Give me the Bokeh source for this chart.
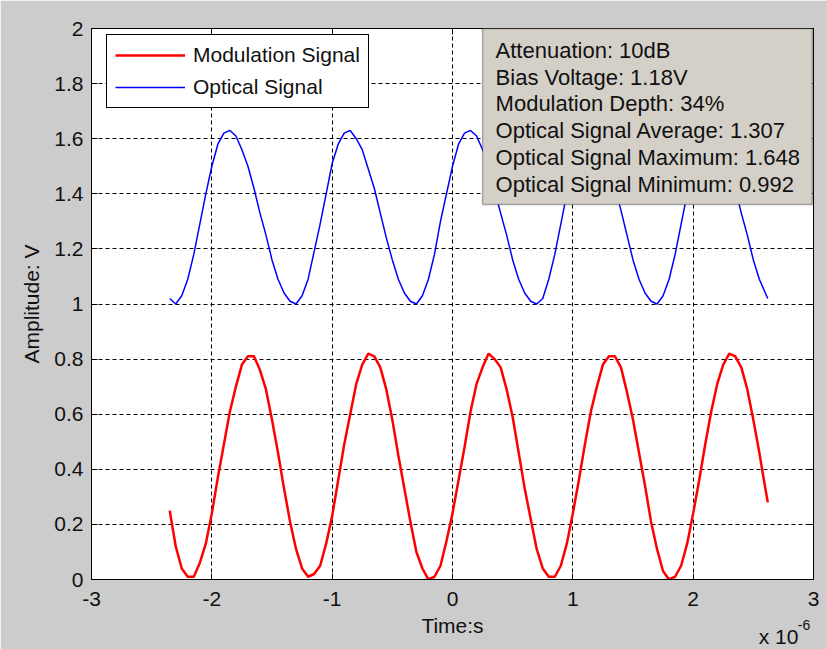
from bokeh.plotting import figure
from bokeh.models import LinearAxis, FixedTicker, BoxAnnotation, Label, Range1d, CustomLabelingPolicy
from bokeh.embed import file_html
from bokeh.resources import INLINE

# ---- data (time in units of 1e-6 s) ----
time_us = [-2.35, -2.30, -2.25, -2.20, -2.15, -2.10, -2.05, -2.00, -1.95, -1.90,
           -1.85, -1.80, -1.75, -1.70, -1.65, -1.60, -1.55, -1.50, -1.45, -1.40,
           -1.35, -1.30, -1.25, -1.20, -1.15, -1.10, -1.05, -1.00, -0.95, -0.90,
           -0.85, -0.80, -0.75, -0.70, -0.65, -0.60, -0.55, -0.50, -0.45, -0.40,
           -0.35, -0.30, -0.25, -0.20, -0.15, -0.10, -0.05, 0.00, 0.05, 0.10,
           0.15, 0.20, 0.25, 0.30, 0.35, 0.40, 0.45, 0.50, 0.55, 0.60,
           0.65, 0.70, 0.75, 0.80, 0.85, 0.90, 0.95, 1.00, 1.05, 1.10,
           1.15, 1.20, 1.25, 1.30, 1.35, 1.40, 1.45, 1.50, 1.55, 1.60,
           1.65, 1.70, 1.75, 1.80, 1.85, 1.90, 1.95, 2.00, 2.05, 2.10,
           2.15, 2.20, 2.25, 2.30, 2.35, 2.40, 2.45, 2.50, 2.55, 2.60,
           2.62]

modulation_signal = [
    0.25, 0.12, 0.04, 0.01, 0.01, 0.06, 0.13, 0.24, 0.37, 0.49,
    0.61, 0.70, 0.78, 0.81, 0.81, 0.76, 0.69, 0.58, 0.46, 0.33,
    0.21, 0.11, 0.04, 0.01, 0.02, 0.05, 0.13, 0.23, 0.36, 0.49,
    0.60, 0.71, 0.78, 0.82, 0.81, 0.77, 0.69, 0.58, 0.45, 0.33,
    0.21, 0.10, 0.04, 0.00, 0.01, 0.05, 0.14, 0.24, 0.36, 0.48,
    0.61, 0.71, 0.77, 0.82, 0.80, 0.77, 0.69, 0.59, 0.46, 0.33,
    0.22, 0.11, 0.04, 0.01, 0.01, 0.05, 0.13, 0.24, 0.36, 0.49,
    0.61, 0.70, 0.78, 0.81, 0.81, 0.77, 0.68, 0.58, 0.46, 0.34,
    0.21, 0.11, 0.03, 0.00, 0.01, 0.05, 0.13, 0.24, 0.36, 0.49,
    0.61, 0.71, 0.78, 0.82, 0.81, 0.77, 0.69, 0.58, 0.46, 0.33,
    0.28]

optical_signal = [
    1.02, 1.00, 1.03, 1.09, 1.18, 1.29, 1.40, 1.50, 1.58, 1.62,
    1.63, 1.61, 1.56, 1.50, 1.42, 1.33, 1.25, 1.16, 1.09, 1.04,
    1.01, 1.00, 1.03, 1.09, 1.19, 1.29, 1.40, 1.51, 1.58, 1.62,
    1.63, 1.60, 1.56, 1.49, 1.42, 1.33, 1.24, 1.16, 1.09, 1.04,
    1.01, 1.00, 1.03, 1.09, 1.18, 1.30, 1.40, 1.50, 1.58, 1.62,
    1.63, 1.61, 1.56, 1.50, 1.41, 1.33, 1.25, 1.16, 1.09, 1.04,
    1.01, 1.00, 1.02, 1.09, 1.18, 1.29, 1.40, 1.50, 1.58, 1.62,
    1.63, 1.61, 1.56, 1.50, 1.42, 1.34, 1.25, 1.16, 1.09, 1.04,
    1.01, 1.00, 1.03, 1.09, 1.18, 1.29, 1.40, 1.50, 1.58, 1.62,
    1.63, 1.61, 1.56, 1.50, 1.42, 1.33, 1.25, 1.16, 1.09, 1.04,
    1.02]

series_names = ["Modulation Signal", "Optical Signal"]

x_ticks = [-3, -2, -1, 0, 1, 2, 3]
x_tick_labels = ["-3", "-2", "-1", "0", "1", "2", "3"]
y_ticks = [0, 0.2, 0.4, 0.6, 0.8, 1, 1.2, 1.4, 1.6, 1.8, 2]
y_tick_labels = ["0", "0.2", "0.4", "0.6", "0.8", "1", "1.2", "1.4", "1.6", "1.8", "2"]

info_lines = ["Attenuation: 10dB",
              "Bias Voltage: 1.18V",
              "Modulation Depth: 34%",
              "Optical Signal Average: 1.307",
              "Optical Signal Maximum: 1.648",
              "Optical Signal Minimum: 0.992"]

FONT = "Liberation Sans"
FS = "21px"
TXT = "#111111"

p = figure(width=826, height=649, x_range=Range1d(-3, 3), y_range=Range1d(0, 2),
           output_backend="svg", toolbar_location=None,
           min_border_left=91, min_border_right=13, min_border_top=28, min_border_bottom=70,
           border_fill_color="#cccccc", background_fill_color="white",
           outline_line_color="black", outline_line_width=1)

p.line(time_us, modulation_signal, color="red", line_width=2.5, legend_label=series_names[0])
p.line(time_us, optical_signal, color="blue", line_width=1.5, legend_label=series_names[1])

# axes styling
for ax in (p.xaxis[0], p.yaxis[0]):
    ax.axis_line_color = "black"
    ax.major_tick_line_color = "black"
    ax.major_tick_in = 6
    ax.major_tick_out = 0
    ax.minor_tick_line_color = None
    ax.major_label_text_font = FONT
    ax.major_label_text_font_size = FS
    ax.major_label_text_color = TXT
    ax.axis_label_text_font = FONT
    ax.axis_label_text_font_size = FS
    ax.axis_label_text_font_style = "normal"
    ax.axis_label_text_color = TXT

p.xaxis[0].ticker = FixedTicker(ticks=x_ticks)
p.xaxis[0].major_label_overrides = dict(zip(x_ticks, x_tick_labels))
p.xaxis[0].major_label_standoff = 12
p.xaxis[0].axis_label = "Time:s"
p.xaxis[0].axis_label_standoff = 5

p.yaxis[0].ticker = FixedTicker(ticks=y_ticks)
p.yaxis[0].major_label_overrides = dict(zip(y_ticks, y_tick_labels))
p.yaxis[0].major_label_standoff = 8
p.yaxis[0].axis_label = "Amplitude: V"
p.yaxis[0].axis_label_standoff = 8

# box-style ticks on top and right (labels hidden)
hide_all = "for (const i of indices) { indices.unset(i) }\nreturn indices"
top_ax = LinearAxis(ticker=FixedTicker(ticks=x_ticks), major_tick_in=6, major_tick_out=0,
                    minor_tick_line_color=None, major_label_standoff=0,
                    major_label_text_font_size="1px",
                    major_label_policy=CustomLabelingPolicy(code=hide_all),
                    axis_line_color="black", major_tick_line_color="black")
right_ax = LinearAxis(ticker=FixedTicker(ticks=y_ticks), major_tick_in=6, major_tick_out=0,
                      minor_tick_line_color=None, major_label_standoff=0,
                      major_label_text_font_size="1px",
                      major_label_policy=CustomLabelingPolicy(code=hide_all),
                      axis_line_color="black", major_tick_line_color="black")
p.add_layout(top_ax, "above")
p.add_layout(right_ax, "right")

# grid
for g in (p.xgrid[0], p.ygrid[0]):
    g.grid_line_color = "black"
    g.grid_line_dash = "4 3"
    g.grid_line_width = 1
p.xgrid[0].ticker = FixedTicker(ticks=x_ticks)
p.ygrid[0].ticker = FixedTicker(ticks=y_ticks)

# legend
lg = p.legend[0]
lg.location = (15, 471)
lg.border_line_color = "black"
lg.border_line_width = 1
lg.border_line_alpha = 1
lg.background_fill_color = "white"
lg.background_fill_alpha = 1
lg.label_text_font = FONT
lg.label_text_font_size = FS
lg.label_text_color = TXT
lg.padding = 8
lg.spacing = 8
lg.margin = 0
lg.glyph_width = 70
lg.glyph_height = 22
lg.label_height = 22
lg.label_standoff = 8

# info box
box = BoxAnnotation(left=0.25, right=2.99, bottom=1.361, top=2.0,
                    fill_color="#d4d0c8", fill_alpha=1, line_color="black", line_width=1.5)
p.add_layout(box)
for i, txt in enumerate(info_lines):
    p.add_layout(Label(x=0.358, y=1.921 - i * 0.0973, text=txt, text_font=FONT,
                       text_font_size="22px", text_color=TXT, text_baseline="alphabetic"))

# exponent label: kept in side panels (where there is spare room) so it is not
# clipped to the frame; its position still follows the data scales
p.add_layout(Label(x=2.545, y=-0.207, text="x 10", text_font=FONT, text_font_size=FS,
                   text_color=TXT, text_baseline="alphabetic"), "above")
p.add_layout(Label(x=2.869, y=-0.1634, text="-6", text_font=FONT, text_font_size="14px",
                   text_color=TXT, text_baseline="alphabetic"), "left")

open("out.html", "w").write(file_html(p, INLINE))
